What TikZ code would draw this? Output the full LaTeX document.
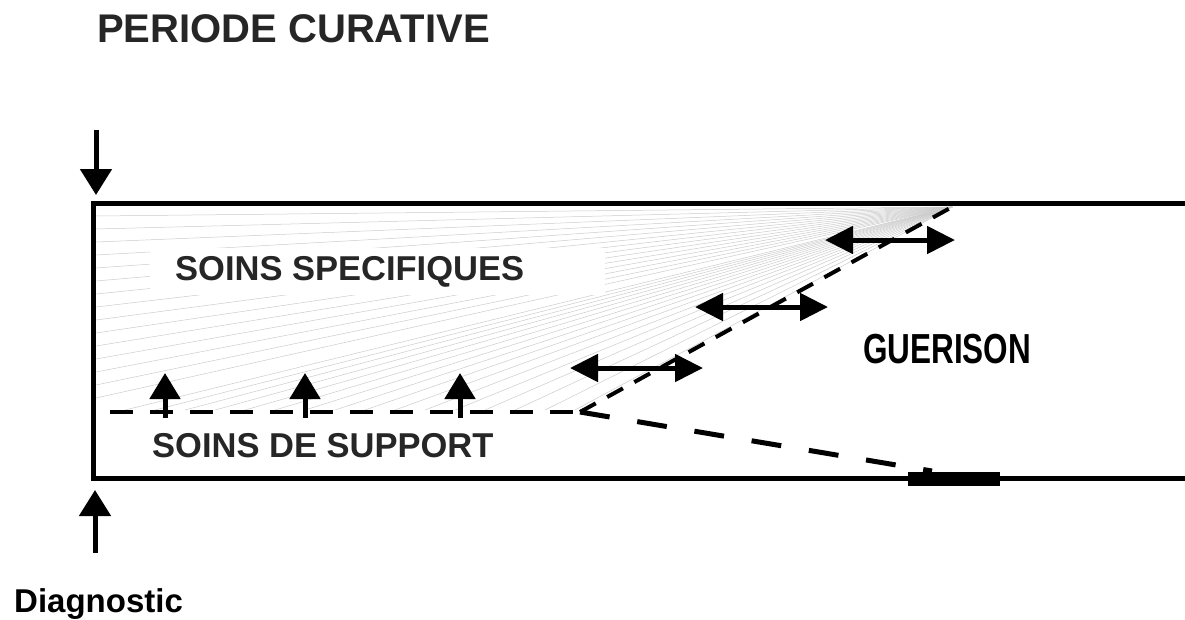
\documentclass[tikz,border=0pt]{standalone}
\usepackage{fontspec}
\usepackage{graphicx}
\setmainfont{Liberation Sans}
\usetikzlibrary{arrows.meta}
\begin{document}
\begin{tikzpicture}[x=1pt,y=-1pt,
  box/.style={line width=5pt, black, line join=miter},
  bigarrow/.style={line width=5pt, -{Triangle[width=31pt,length=26pt]}},
  dbl/.style={line width=5pt, {Triangle[width=27pt,length=28pt]}-{Triangle[width=27pt,length=28pt]}},
  hdash/.style={line width=4.5pt, dash pattern=on 23pt off 17pt},
  ddash/.style={line width=4pt, dash pattern=on 18pt off 13pt},
  sdash/.style={line width=5pt, dash pattern=on 30pt off 28pt},
  fan/.style={gray!40, line width=0.5pt},
  lbl/.style={font=\bfseries\fontsize{34.5}{40}\selectfont, text=black!85, inner sep=0pt}
]
\useasboundingbox (0,0) rectangle (1185,619);
\fill[white] (0,0) rectangle (1185,619);

% named points
\coordinate (apex) at (952,207);
\coordinate (k) at (580,412);
\coordinate (h0) at (110,412);
\coordinate (e) at (932,471);

% fan hatching
\foreach \yy in {216,229,...,410} \draw[fan] (apex) -- (96,\yy);
\foreach \xx in {125,155,...,575} \draw[fan] (apex) -- (\xx,410);

% white area behind upper label
\fill[white] (150,248) rectangle (605,295);

% box
\draw[box] (1185,203) -- (93,203) -- (93,478) -- (1185,478);

% labels
\node[lbl, font=\bfseries\fontsize{40}{46}\selectfont, anchor=base west] (periode) at (97,42) {PERIODE CURATIVE};
\node[lbl, anchor=base west] (spec) at (175,280) {SOINS SPECIFIQUES};
\node[lbl, anchor=base west] (supp) at (152,457) {SOINS DE SUPPORT};
\node[lbl, text=black, anchor=base west] (guer) at (863,363) {\scalebox{0.75}[1]{\fontsize{42}{48}\selectfont GUERISON}};
\node[lbl, text=black, font=\bfseries\fontsize{33}{38}\selectfont, anchor=base west] (diag) at (14,612) {Diagnostic};

% top and bottom arrows
\coordinate (dtop) at (96,130);
\coordinate (dtip) at (96,195);
\coordinate (utail) at (95,553);
\coordinate (utip) at (95,490);
\draw[bigarrow] (dtop) -- (dtip);
\draw[bigarrow] (utail) -- (utip);

% dashed lines
\draw[hdash] (h0) -- (k);
\draw[ddash] (k) -- (apex);
\draw[sdash] (k) -- (e);
\fill (908,472) rectangle (1000,486);

% small up arrows
\foreach \xx/\nm in {165/s1,305/s2,460/s3}{
  \coordinate (\nm b) at (\xx,418);
  \coordinate (\nm t) at (\xx,373);
  \draw[line width=5pt, -{Triangle[width=30pt,length=26pt]}] (\nm b) -- (\nm t);
}

% double arrows
\coordinate (a1l) at (570,368); \coordinate (a1r) at (703,368);
\coordinate (a2l) at (695,307); \coordinate (a2r) at (828,307);
\coordinate (a3l) at (825,240); \coordinate (a3r) at (955,240);
\draw[dbl] (a1l) -- (a1r);
\draw[dbl] (a2l) -- (a2r);
\draw[dbl] (a3l) -- (a3r);
\end{tikzpicture}
\end{document}
